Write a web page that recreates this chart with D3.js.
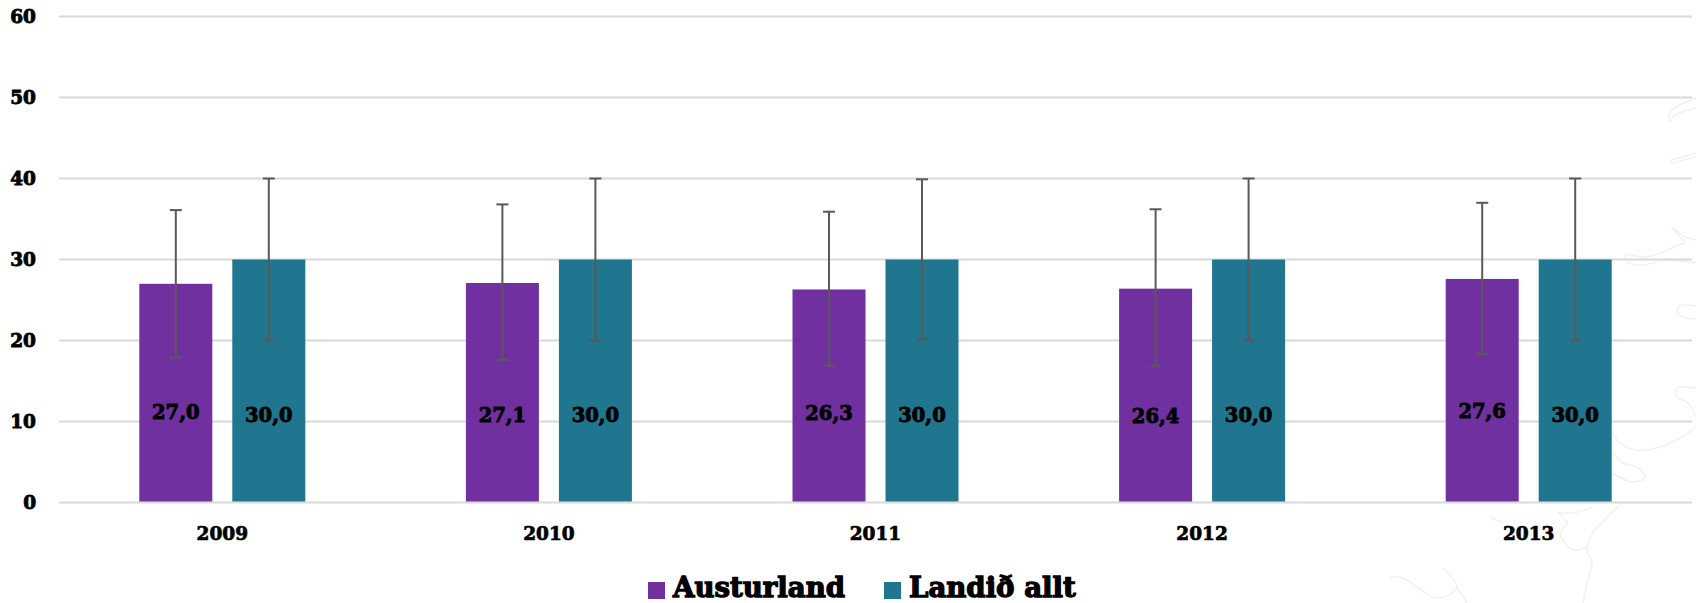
<!DOCTYPE html>
<html><head><meta charset="utf-8">
<script src="https://cdn.jsdelivr.net/npm/d3@7/dist/d3.min.js"></script>
<style>html,body{margin:0;padding:0;background:#fff}svg{display:block}
text{font-family:"DejaVu Serif",serif;font-weight:700;fill:#000;stroke:#000}</style></head>
<body><svg id="c" width="1696" height="603"></svg>
<script>
const years=["2009","2010","2011","2012","2013"];
const seriesNames=["Austurland","Landið allt"];
const colors=["#70309f","#20768e"];
const austurland=[27.0,27.1,26.3,26.4,27.6];
const landid=[30,30,30,30,30];
const austurLow=[17.9,17.6,16.9,16.8,18.3];
const austurHigh=[36.1,36.8,35.9,36.2,37.0];
const landidLow=[20,20,20.1,20,20];
const landidHigh=[40,40,39.9,40,40];
const austurLabelAt=[11.2,10.8,11.0,10.7,11.3];
const landidLabelAt=[10.8,10.8,10.8,10.8,10.8];
const yTicks=[0,10,20,30,40,50,60];
// faint coastline decoration behind the chart
const coast=[
 [[1696,98],[1680,105],[1670,112],[1670,121],[1675,115],[1696,108]],
 [[1696,153],[1683,157],[1672,160],[1672,163],[1687,159],[1696,157]],
 [[1672,227],[1678,235],[1685,243],[1677,245],[1662,253],[1643,257],[1625,255],[1627,262],[1643,265],[1667,260],[1696,263]],
 [[1672,227],[1685,237],[1696,240]],
 [[1696,306],[1680,306],[1677,312],[1683,317],[1696,319]],
 [[1696,388],[1677,388],[1677,397],[1688,403],[1696,417]],
 [[1696,427],[1680,438],[1657,448],[1637,450],[1620,443],[1612,432]],
 [[1612,452],[1623,463],[1637,467],[1645,477],[1633,482],[1612,473]],
 [[1620,505],[1607,517],[1593,533],[1587,550],[1592,563],[1587,583],[1583,603]],
 [[1557,512],[1573,513],[1593,507]],
 [[1557,512],[1567,523],[1560,533],[1573,550],[1587,547]],
 [[1490,517],[1503,523]],
 [[1390,577],[1403,578],[1437,598],[1457,587],[1443,568]],
 [[1457,587],[1467,603]]
];

const svg=d3.select("#c");
const y=d3.scaleLinear().domain([0,60]).range([502.5,16.5]);
const x=d3.scaleBand().domain(years).range([59,1692]);
const sub=d3.scaleBand().domain(seriesNames).range([-83,83]).paddingInner(0.215);
const fmt=v=>v.toFixed(1).replace(".",",");

svg.append("g").selectAll("path").data(coast).join("path")
  .attr("d",d3.line().curve(d3.curveCatmullRom)).attr("fill","none").attr("stroke","#f1f1f1").attr("stroke-width",1.5);

svg.append("g").selectAll("line").data(yTicks).join("line")
  .attr("x1",59).attr("x2",1692).attr("y1",d=>y(d)).attr("y2",d=>y(d))
  .attr("stroke","#d9d9d9").attr("stroke-width",2);
svg.append("g").selectAll("text").data(yTicks).join("text")
  .attr("x",36).attr("y",d=>y(d)).attr("dy","0.36em").attr("text-anchor","end")
  .attr("font-size",18.5).attr("stroke-width",0.9).text(d=>d);
svg.append("g").selectAll("text").data(years).join("text")
  .attr("x",d=>x(d)+x.bandwidth()/2).attr("y",540).attr("text-anchor","middle")
  .attr("font-size",18.5).attr("stroke-width",0.7).text(d=>d);

const series=[
 {name:seriesNames[0],vals:austurland,low:austurLow,high:austurHigh,at:austurLabelAt,color:colors[0]},
 {name:seriesNames[1],vals:landid,low:landidLow,high:landidHigh,at:landidLabelAt,color:colors[1]}];
series.forEach(s=>{
  const g=svg.append("g");
  const cx=i=>x(years[i])+x.bandwidth()/2+sub(s.name)+sub.bandwidth()/2;
  g.selectAll("rect").data(s.vals).join("rect")
    .attr("x",(d,i)=>cx(i)-sub.bandwidth()/2).attr("width",sub.bandwidth())
    .attr("y",d=>y(d)).attr("height",d=>y(0)-y(d)-1).attr("fill",s.color);
  const e=svg.append("g").attr("stroke","#595959").attr("stroke-width",2);
  e.selectAll(".v").data(s.vals).join("line").attr("class","v")
    .attr("x1",(d,i)=>cx(i)).attr("x2",(d,i)=>cx(i)).attr("y1",(d,i)=>y(s.low[i])).attr("y2",(d,i)=>y(s.high[i]));
  [s.low,s.high].forEach((arr,k)=>e.selectAll(".c"+k).data(arr).join("line").attr("class","c"+k)
    .attr("x1",(d,i)=>cx(i)-6).attr("x2",(d,i)=>cx(i)+6).attr("y1",d=>y(d)).attr("y2",d=>y(d)));
  svg.append("g").selectAll("text").data(s.vals).join("text")
    .attr("x",(d,i)=>cx(i)).attr("y",(d,i)=>y(s.at[i])).attr("dy","0.36em").attr("text-anchor","middle")
    .attr("font-size",19.5).attr("stroke-width",0.9).text(fmt);
});
const lg=svg.append("g");
const legendX=[648,884];
seriesNames.forEach((n,i)=>{
  lg.append("rect").attr("x",legendX[i]).attr("y",582).attr("width",17).attr("height",17).attr("fill",colors[i]);
  lg.append("text").attr("x",legendX[i]+25).attr("y",596.5).attr("font-size",27.6).attr("stroke-width",1.3).text(n);
});
</script></body></html>
